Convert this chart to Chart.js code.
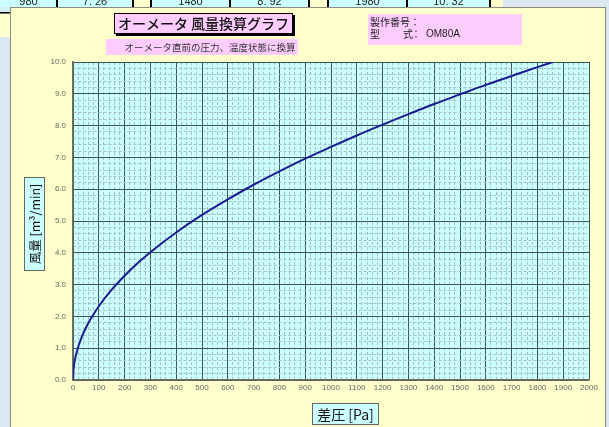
<!DOCTYPE html>
<html>
<head>
<meta charset="utf-8">
<script src="https://cdn.jsdelivr.net/npm/chart.js@4.4.1/dist/chart.umd.min.js"></script>
<style>
  html, body { margin: 0; padding: 0; background: #dce9f2; }
  #wrap { width: 609px; height: 427px; }
</style>
</head>
<body>
<div id="wrap"><canvas id="myChart" width="609" height="427"></canvas></div>
<script>
// differential pressure [Pa] and air flow [m3/min]
const pressure = [0, 2, 5, 10, 20, 30, 40, 60, 80, 100, 150, 200, 250, 300, 400, 500,
  600, 700, 800, 900, 1000, 1100, 1200, 1300, 1400, 1500, 1600, 1700, 1800, 1860];
const flow = [0, 0.33, 0.52, 0.73, 1.04, 1.27, 1.47, 1.80, 2.07, 2.32, 2.84, 3.28, 3.67, 4.02, 4.64, 5.19,
  5.68, 6.14, 6.56, 6.96, 7.33, 7.69, 8.03, 8.36, 8.68, 8.98, 9.28, 9.56, 9.84, 10.00];

// spreadsheet row above the chart
const tableCells = ['980', '7. 26', '1480', '8. 92', '1980', '10. 32'];

const titleText = 'オーメータ 風量換算グラフ';
const subTitleText = 'オーメータ直前の圧力、温度状態に換算';
const serialLabel = '製作番号：';
const modelValue = 'OM80A';
const yTitle = '風量 [m³/min]';
const xTitle = '差圧 [Pa]';

const JP = '"Noto Sans CJK JP", "Noto Sans", sans-serif';

const sheetBackground = {
    id: 'sheetBackground',
    beforeDraw(chart) {
        const { ctx, chartArea } = chart;
        ctx.save();
        // outside of chart object
        ctx.fillStyle = '#dce9f2';
        ctx.fillRect(0, 0, 609, 427);

        // top row cells
        const cells = [[0, 57, 0], [57, 133, 1], [133, 151, -1], [151, 230, 2],
            [230, 309, 3], [309, 328, -1], [328, 407, 4], [407, 490, 5], [490, 503, -1]];
        cells.forEach(([a, b, idx]) => {
            ctx.fillStyle = idx < 0 ? '#ffffcc' : '#ccffff';
            ctx.fillRect(a, 0, b - a, 7);
            if (idx >= 0) {
                ctx.fillStyle = '#222';
                ctx.font = '11px "Liberation Sans", sans-serif';
                ctx.textAlign = 'center';
                ctx.textBaseline = 'alphabetic';
                ctx.fillText(tableCells[idx], (a + b) / 2, 5);
            }
        });
        ctx.fillStyle = '#000';
        [57, 133, 151, 230, 309, 328, 407, 490].forEach(x => ctx.fillRect(x - 1, 0, 2, 7));

        // left strip
        ctx.fillStyle = '#d4eef6';
        ctx.fillRect(0, 7, 10, 6);
        ctx.fillStyle = '#000';
        ctx.fillRect(0, 12, 10, 1.5);
        ctx.fillStyle = '#ffffcc';
        ctx.fillRect(0, 14, 10, 23);

        // chart object
        ctx.fillStyle = '#ffffcc';
        ctx.fillRect(10, 7, 596, 430);
        ctx.strokeStyle = '#8a8a80';
        ctx.lineWidth = 1;
        ctx.strokeRect(10.5, 7.5, 595, 430);

        // plot area
        ctx.fillStyle = '#ccffff';
        ctx.fillRect(chartArea.left, chartArea.top, chartArea.right - chartArea.left, chartArea.bottom - chartArea.top);
        ctx.restore();
    },
    afterDraw(chart) {
        const { ctx } = chart;
        ctx.save();
        ctx.textAlign = 'center';
        ctx.textBaseline = 'middle';

        // title with shadow
        ctx.fillStyle = '#000';
        ctx.fillRect(116, 15, 179, 21);
        ctx.fillStyle = '#ffccff';
        ctx.fillRect(114, 13, 179, 21);
        ctx.strokeStyle = '#000';
        ctx.strokeRect(114.5, 13.5, 178, 20);
        ctx.fillStyle = '#111';
        ctx.font = '500 14px ' + JP;
        ctx.fillText(titleText, 203.5, 24);

        // subtitle
        ctx.fillStyle = '#ffccff';
        ctx.fillRect(106, 39, 192, 16);
        ctx.fillStyle = '#333';
        ctx.font = '9.5px ' + JP;
        ctx.fillText(subTitleText, 210, 47.5);

        // serial / model
        ctx.fillStyle = '#ffccff';
        ctx.fillRect(368, 14, 154, 31);
        ctx.fillStyle = '#222';
        ctx.font = '10px ' + JP;
        ctx.textAlign = 'left';
        ctx.fillText(serialLabel, 370, 22);
        ctx.fillText('型', 370, 34);
        ctx.fillText('式', 403, 34);
        ctx.fillText('：', 411, 34);
        ctx.font = '10px "Liberation Sans", sans-serif';
        ctx.fillText(modelValue, 426, 34);

        // y axis title
        ctx.fillStyle = '#ccffff';
        ctx.fillRect(24, 177, 21, 94);
        ctx.strokeStyle = '#666';
        ctx.strokeRect(24.5, 177.5, 20, 93);
        ctx.save();
        ctx.translate(35, 224);
        ctx.rotate(-Math.PI / 2);
        ctx.textAlign = 'center';
        ctx.fillStyle = '#111';
        ctx.font = '12.5px ' + JP;
        ctx.fillText(yTitle, 0, 0);
        ctx.restore();

        // x axis title
        ctx.fillStyle = '#ccffff';
        ctx.fillRect(312, 403, 67, 22);
        ctx.strokeStyle = '#666';
        ctx.strokeRect(312.5, 403.5, 66, 21);
        ctx.fillStyle = '#111';
        ctx.textAlign = 'center';
        ctx.font = '14px ' + JP;
        ctx.fillText(xTitle, 345.5, 414.5);
        ctx.restore();
    }
};

const isMajor = (v, step) => Math.abs(v / step - Math.round(v / step)) < 1e-6;

const data = {
    datasets: [{
        data: pressure.map((p, i) => ({ x: p, y: flow[i] })),
        borderColor: '#1c1c92',
        borderWidth: 2,
        pointRadius: 0,
        cubicInterpolationMode: 'monotone',
        fill: false
    }]
};

const config = {
    type: 'line',
    data,
    options: {
        responsive: false,
        animation: false,
        layout: { padding: { left: 13, right: 20, top: 62, bottom: 0 } },
        plugins: { legend: { display: false }, tooltip: { enabled: false } },
        scales: {
            x: {
                type: 'linear',
                min: 0,
                max: 2000,
                afterFit(scale) { scale.height = 47; },
                ticks: {
                    stepSize: 20,
                    autoSkip: false,
                    maxRotation: 0,
                    maxTicksLimit: 1000,
                    padding: 3,
                    color: '#666',
                    font: { size: 8, family: '"Liberation Sans", sans-serif' },
                    callback: v => isMajor(v, 100) ? String(v) : ''
                },
                grid: {
                    drawTicks: false,
                    color: c => c.tick && isMajor(c.tick.value, 100) ? '#3c5656' : '#a3c2c2',
                    lineWidth: 1
                },
                border: {
                    color: '#707060',
                    width: 1.5,
                    dash: c => c.tick && isMajor(c.tick.value, 100) ? [] : [3, 2]
                }
            },
            y: {
                min: 0,
                max: 10,
                afterFit(scale) { scale.width = 60; },
                ticks: {
                    stepSize: 0.2,
                    autoSkip: false,
                    maxTicksLimit: 1000,
                    padding: 7,
                    color: '#666',
                    font: { size: 8, family: '"Liberation Sans", sans-serif' },
                    callback: v => isMajor(v, 1) ? Math.round(v).toFixed(1) : ''
                },
                grid: {
                    drawTicks: false,
                    color: c => c.tick && isMajor(c.tick.value, 1) ? '#3c5656' : '#a3c2c2',
                    lineWidth: 1
                },
                border: {
                    color: '#707060',
                    width: 1.5,
                    dash: c => c.tick && isMajor(c.tick.value, 1) ? [] : [3, 2]
                }
            }
        }
    },
    plugins: [sheetBackground]
};

const ctx = document.getElementById('myChart').getContext('2d');
new Chart(ctx, config);
</script>
</body>
</html>
